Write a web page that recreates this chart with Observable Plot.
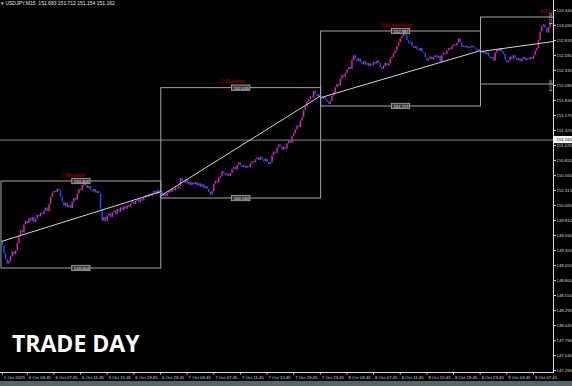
<!DOCTYPE html>
<html><head><meta charset="utf-8">
<script src="https://cdn.jsdelivr.net/npm/d3@7"></script>
<script src="https://cdn.jsdelivr.net/npm/@observablehq/plot@0.6"></script>
<style>
html,body{margin:0;padding:0;background:#000;width:572px;height:386px;overflow:hidden;}
#wrap{position:relative;width:572px;height:386px;}
#hdr{position:absolute;left:1px;top:0px;font:5px "Liberation Sans",sans-serif;color:#e8e8e8;white-space:pre;line-height:7px;}
#title{position:absolute;left:12px;top:327px;font:bold 23px "Open Sans",sans-serif;color:#fff;}
#bar{position:absolute;left:0;top:381px;width:572px;height:5px;background:#55646a;}
</style></head><body>
<div id="wrap"><div id="chart"></div>
<div id="hdr">▾ USDJPY,M15  151.683 151.712 151.154 151.162</div>
<div id="title">TRADE DAY</div>
<div id="bar"></div>
</div>
<script>
// ---- data ----
const symbol = "USDJPY,M15";
const startTime = "2025-10-06T00:00";
const firstOpen = 149.45;
const closes = [
// Monday
149.38,149.25,149.15,149.08,149.12,149.20,149.28,149.24,149.30,149.42,
149.55,149.64,149.60,149.74,149.80,149.76,149.84,149.80,149.86,149.78,
149.83,149.90,149.87,149.93,149.91,149.97,150.02,149.96,150.08,150.20,
150.27,150.30,150.28,150.33,150.30,150.20,150.12,150.05,150.10,150.03,
150.06,150.01,150.12,150.18,150.15,150.26,150.33,150.31,150.40,150.44,
150.40,150.35,150.38,150.31,150.29,150.33,150.27,150.30,150.26,150.00,
149.80,149.86,149.79,149.88,149.92,149.86,149.94,149.97,149.91,149.99,
149.95,150.02,149.98,150.04,150.00,150.06,150.03,150.09,150.12,150.08,
150.13,150.16,150.11,150.17,150.14,150.19,150.23,150.20,150.25,150.22,
150.27,150.30,150.25,150.31,150.26,150.29,
// Tuesday
150.22,150.25,150.21,150.27,150.30,150.28,150.33,150.31,150.36,150.34,
150.38,150.52,150.47,150.44,150.49,150.42,150.45,150.40,150.44,150.41,
150.45,150.39,150.43,150.37,150.41,150.35,150.38,150.33,150.28,150.24,
150.30,150.42,150.47,150.44,150.52,150.55,150.63,150.60,150.56,150.59,
150.55,150.60,150.67,150.70,150.66,150.74,150.78,150.73,150.70,150.73,
150.69,150.72,150.70,150.76,150.80,150.78,150.83,150.86,150.82,150.87,
150.83,150.80,150.84,150.79,150.75,150.78,150.90,150.96,150.94,151.03,
151.08,151.05,150.99,151.04,151.01,151.10,151.14,151.11,151.22,151.27,
151.33,151.40,151.37,151.48,151.54,151.66,151.72,151.80,151.84,151.89,
151.87,151.98,151.93,151.89,151.92,151.88,
// Wednesday
151.85,151.88,151.84,151.80,151.76,151.81,151.90,151.95,152.04,152.10,
152.07,152.18,152.25,152.22,152.28,152.34,152.38,152.35,152.50,152.58,
152.52,152.48,152.53,152.46,152.43,152.48,152.42,152.45,152.40,152.44,
152.41,152.47,152.44,152.49,152.45,152.38,152.35,152.40,152.45,152.41,
152.44,152.52,152.55,152.62,152.66,152.74,152.80,152.86,152.90,152.96,
152.92,152.83,152.78,152.80,152.74,152.70,152.73,152.68,152.66,152.70,
152.64,152.62,152.54,152.49,152.52,152.56,152.51,152.55,152.58,152.54,
152.57,152.47,152.58,152.62,152.60,152.66,152.70,152.68,152.73,152.76,
152.74,152.79,152.86,152.80,152.72,152.74,152.71,152.73,152.70,152.72,
152.74,152.71,152.69,152.66,152.68,152.65,
// Thursday
152.62,152.65,152.60,152.63,152.56,152.53,152.55,152.49,152.62,152.68,
152.65,152.70,152.64,152.60,152.50,152.46,152.49,152.56,152.52,152.58,
152.54,152.50,152.53,152.48,152.52,152.55,152.50,152.53,152.51,152.55,
152.52,152.58,152.66,152.70,152.84,152.98,153.07,153.10,153.04,152.96,
153.05,153.12,153.10
];
const dayNames = ["1.Monday","2.Tuesday","3.Wednesday","4.Thursday"];
const dayHigh  = [150.466, 152.035, 152.987, 153.222];
const dayLow   = [149.004, 150.180, 151.727, 152.096];
const lineOpen = [149.458, 150.231, 151.878, 152.651];
const lineClose= [150.298, 151.911, 152.668, 153.021];
const currentPrice = 151.162;
const yTickLabels = ["153.340","153.090","152.835","152.585","152.335","152.080","151.830","151.575","151.325","151.070","150.820","150.565","150.315","150.065","149.810","149.560","149.305","149.055","148.800","148.550","148.295","148.045","147.790","147.540","147.290"];
const xTickLabels = ["1 Oct 2025","6 Oct 03:45","6 Oct 07:45","6 Oct 11:45","6 Oct 15:45","6 Oct 19:45","6 Oct 23:45","7 Oct 03:45","7 Oct 07:45","7 Oct 11:45","7 Oct 15:45","7 Oct 19:45","7 Oct 23:45","8 Oct 03:45","8 Oct 07:45","8 Oct 11:45","8 Oct 15:45","8 Oct 19:45","8 Oct 23:45","9 Oct 03:45","9 Oct 07:45"];
const xTickTimes = ["2025-10-06T00:00","2025-10-06T03:45","2025-10-06T07:45","2025-10-06T11:45","2025-10-06T15:45","2025-10-06T19:45","2025-10-06T23:45","2025-10-07T03:45","2025-10-07T07:45","2025-10-07T11:45","2025-10-07T15:45","2025-10-07T19:45","2025-10-07T23:45","2025-10-08T03:45","2025-10-08T07:45","2025-10-08T11:45","2025-10-08T15:45","2025-10-08T19:45","2025-10-08T23:45","2025-10-09T03:45","2025-10-09T07:45"];

// ---- build ----
const t0 = new Date(startTime + "Z");
const idx = t => (new Date(t + "Z") - t0) / 900000;
const bars = closes.map((c, i) => ({i, o: i ? closes[i-1] : firstOpen, c}));
const barsPerDay = 96;
const days = dayNames.map((n, k) => ({
  n, s: k*barsPerDay - 0.5, e: k*barsPerDay + barsPerDay - 0.5, m: k*barsPerDay + barsPerDay/2 - 0.5,
  lab: k*barsPerDay + 35, hi: dayHigh[k], lo: dayLow[k], a: lineOpen[k], b: lineClose[k]
}));
const xTicks = xTickTimes.map((t, k) => ({i: idx(t), label: xTickLabels[k]}));
const yTicks = yTickLabels.map(Number);
const xDom = [-1.08, 331.05];
const yDom = [147.256, 153.508];
const boxLabels = days.slice(0,3).flatMap(d => [{x: d.m, y: d.hi}, {x: d.m, y: d.lo}]);
const thu = days[3];

const chart = Plot.plot({
  width: 572, height: 386,
  marginLeft: 0, marginRight: 19, marginTop: 0, marginBottom: 14,
  style: {background: "#000", color: "#d8d8d8", fontSize: "4.3px", fontFamily: "Liberation Sans, sans-serif"},
  x: {domain: xDom, axis: "bottom", ticks: xTicks.map(d => d.i), tickFormat: () => "", tickSize: 2.5, line: true},
  y: {domain: yDom, axis: "right", ticks: yTicks, tickFormat: d => d.toFixed(3), tickSize: 2, tickPadding: 1, line: true},
  marks: [
    Plot.ruleY([currentPrice], {stroke: "#8c8c8c", strokeWidth: 1}),
    Plot.rect(days, {x1: "s", x2: "e", y1: "lo", y2: "hi", fill: "none", stroke: "#a6a6a6", strokeWidth: 1, clip: true}),
    Plot.ruleX(bars.filter(d => d.c >= d.o), {x: "i", y1: "o", y2: "c", stroke: "#f01fae", strokeWidth: 1.4}),
    Plot.ruleX(bars.filter(d => d.c < d.o), {x: "i", y1: "o", y2: "c", stroke: "#2050ff", strokeWidth: 1.4}),
    Plot.link(days, {x1: "s", x2: "e", y1: "a", y2: "b", stroke: "#d4d4d4", strokeWidth: 1, clip: true}),
    Plot.rect(boxLabels, {x1: d => d.x - 5.5, x2: d => d.x + 5.5, y1: d => d.y - 0.045, y2: d => d.y + 0.045, fill: "#3a3a3a", stroke: "#b0b0b0", strokeWidth: 0.8}),
    Plot.text(boxLabels, {x: "x", y: "y", text: d => d.y.toFixed(3), fill: "#e0e0e0", fontSize: 4.2}),
    Plot.text(days, {x: "lab", y: "hi", text: "n", textAnchor: "start", lineAnchor: "bottom", dy: -5, fill: "#c80000", fontSize: 6, fontFamily: "Liberation Serif, serif", clip: true}),
    Plot.text([thu.hi, thu.lo], {y: d => d, frameAnchor: "right", dx: -3, dy: -5, text: d => d.toFixed(3), rotate: -90, fill: "#cfcfcf", fontSize: 3.4}),
    Plot.text(xTicks, {x: "i", text: "label", frameAnchor: "bottom", textAnchor: "start", lineAnchor: "middle", dx: 1.5, dy: 5.5, fill: "#d8d8d8", fontSize: 4.3}),
    Plot.rect([currentPrice], {x1: xDom[1], x2: xDom[1] + 11.4, y1: d => d - 0.06, y2: d => d + 0.06, fill: "#f4f4f4"}),
    Plot.text([currentPrice], {y: d => d, frameAnchor: "right", dx: 3, textAnchor: "start", text: d => d.toFixed(3), fill: "#000", fontSize: 4.3})
  ]
});
document.getElementById("chart").appendChild(chart);
</script>
</body></html>
